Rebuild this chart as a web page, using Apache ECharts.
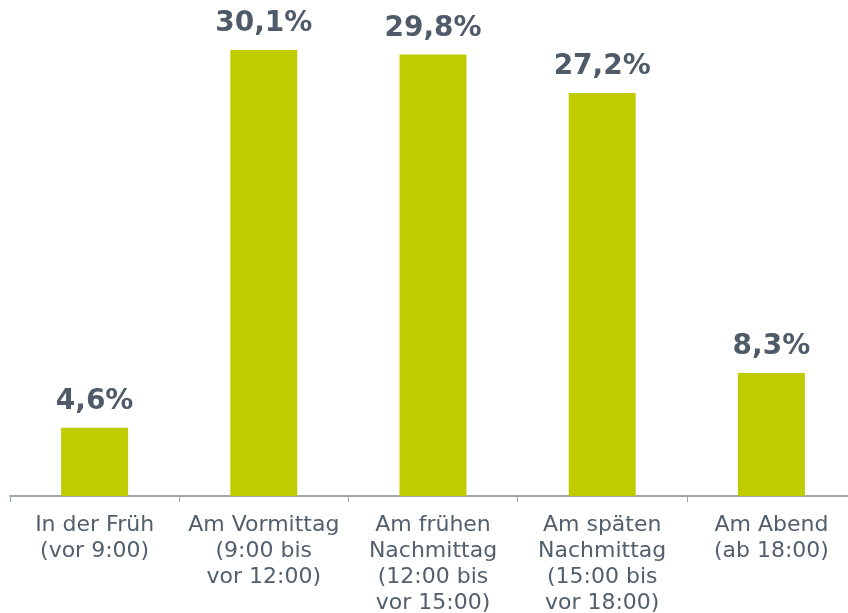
<!DOCTYPE html>
<html><head><meta charset="utf-8">
<script src="https://cdn.jsdelivr.net/npm/echarts@6/dist/echarts.min.js"></script>
<style>html,body{margin:0;padding:0;background:#fff}#c{width:848px;height:613px}</style>
</head><body><div id="c"></div>
<script>
const categories = [
  "In der Früh\n(vor 9:00)",
  "Am Vormittag\n(9:00 bis\nvor 12:00)",
  "Am frühen\nNachmittag\n(12:00 bis\nvor 15:00)",
  "Am späten\nNachmittag\n(15:00 bis\nvor 18:00)",
  "Am Abend\n(ab 18:00)"
];
const values = [4.6, 30.1, 29.8, 27.2, 8.3];

const chart = echarts.init(document.getElementById('c'));
chart.setOption({
  animation: false,
  grid: { left: 10, right: -8, top: 50, bottom: 117, containLabel: false, outerBoundsMode: 'none' },
  xAxis: {
    type: 'category',
    data: categories,
    axisLine: { lineStyle: { color: '#7f8a96', width: 1.5 } },
    axisTick: { show: true, length: 6, lineStyle: { color: '#9aa3ad' } },
    axisLabel: {
      color: '#525f6d', fontFamily: 'DejaVu Sans', fontSize: 22, lineHeight: 26,
      margin: 16, interval: 0, align: 'center'
    }
  },
  yAxis: { type: 'value', min: 0, max: 30.1, show: false, splitLine: { show: false } },
  series: [{
    type: 'bar',
    data: values,
    barWidth: 67,
    itemStyle: { color: '#bfcc00' },
    label: {
      show: true, position: 'top', distance: 12,
      color: '#4f5b69', fontFamily: 'DejaVu Sans', fontWeight: 'bold', fontSize: 28,
      formatter: p => p.value.toFixed(1).replace('.', ',') + '%'
    }
  }]
});
</script></body></html>
